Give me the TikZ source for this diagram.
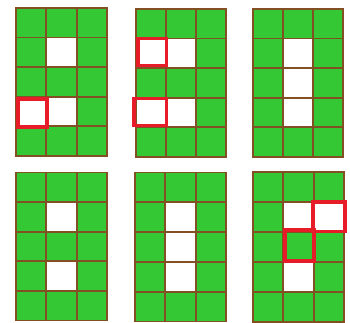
\documentclass[tikz,border=0pt]{standalone}
\definecolor{cellgreen}{RGB}{52,200,52}
\definecolor{gridbrown}{RGB}{130,80,35}
\definecolor{markred}{RGB}{230,28,40}
\tikzset{
  cellgrid/.style={draw=gridbrown, line width=1.8pt},
  redmark/.style={draw=markred, line width=3.8pt},
}
\newcommand\mygrid[5]{%
  \begin{scope}[shift={(#1,#2)}]
    \fill[cellgreen] (0,0) rectangle (3*#3,5*#4);
    \foreach \cx/\ry in {#5} {
      \fill[white] ({(\cx-1)*#3},{(\ry-1)*#4}) rectangle ++(#3,#4);
    }
    \foreach \i in {1,2} \draw[cellgrid] ({\i*#3},0) -- ({\i*#3},{5*#4});
    \foreach \j in {1,...,4} \draw[cellgrid] (0,{\j*#4}) -- ({3*#3},{\j*#4});
    \draw[cellgrid] (0,0) rectangle ({3*#3},{5*#4});
  \end{scope}}
\begin{document}
\begin{tikzpicture}[x=1pt,y=-1pt]
  \fill[white] (0,0) rectangle (350,323);
  \useasboundingbox (0,0) rectangle (350,323);
  % top row
  \mygrid{16}{8}{30.3}{29.6}{2/2,1/4,2/4}
  \mygrid{136}{9}{30.1}{29.6}{1/2,2/2,1/4,2/4}
  \mygrid{253}{9}{30}{29.6}{2/2,2/3,2/4}
  % bottom row
  \mygrid{16}{172.5}{30.3}{29.6}{2/2,2/4}
  \mygrid{135}{172.5}{30.3}{29.8}{2/2,2/3,2/4}
  \mygrid{253}{172}{30.3}{30}{2/2,3/2,2/4}
  % red marks
  \draw[redmark] (18,98.7) rectangle (47,127);
  \draw[redmark] (137.6,38.5) rectangle (166.5,65.5);
  \draw[redmark] (134,98.5) rectangle (166.5,125.5);
  \draw[redmark] (313,202) rectangle (345,231.5);
  \draw[redmark] (285.3,230.3) rectangle (313.7,261.3);
\end{tikzpicture}
\end{document}
